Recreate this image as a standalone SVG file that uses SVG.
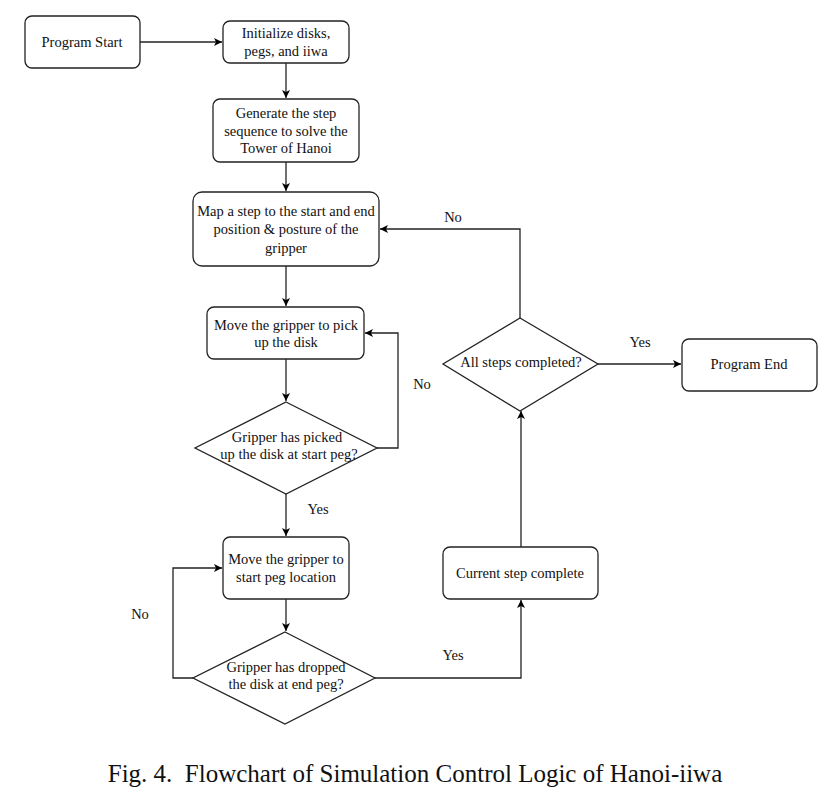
<svg xmlns="http://www.w3.org/2000/svg" width="830" height="796" viewBox="0 0 830 796">
<defs>
<marker id="ah" markerWidth="10" markerHeight="10" refX="9" refY="5" orient="auto" markerUnits="userSpaceOnUse">
<path d="M1,1 L9,5 L1,9 L3,5 Z" fill="#000"/>
</marker>
<style>
.n{fill:#fff;stroke:#222;stroke-width:1.3}
.t{font-family:"Liberation Serif","Times New Roman",serif;font-size:14.5px;fill:#111;text-anchor:middle}
.c{fill:none;stroke:#222;stroke-width:1.3}
.a{marker-end:url(#ah)}
.cap{font-family:"Liberation Serif","Times New Roman",serif;font-size:25px;fill:#111;text-anchor:middle}
</style>
</defs>
<rect width="830" height="796" fill="#fff"/>
<g id="connectors">
<path class="c a" d="M140,42 H222"/>
<path class="c a" d="M286,63 V98"/>
<path class="c a" d="M286,162 V191"/>
<path class="c a" d="M286,266 V306"/>
<path class="c a" d="M286,359 V401"/>
<path class="c a" d="M377,448 H398 V333 H365"/>
<path class="c a" d="M286,494 V536"/>
<path class="c a" d="M286,599 V631"/>
<path class="c a" d="M193,678 H173 V568 H222"/>
<path class="c a" d="M375,678 H521 V600"/>
<path class="c a" d="M521,547 V411"/>
<path class="c a" d="M520,318 V229 H380"/>
<path class="c a" d="M598,364 H681"/>
<text class="t" x="422" y="389">No</text>
<text class="t" x="318" y="514">Yes</text>
<text class="t" x="140" y="619">No</text>
<text class="t" x="453" y="660">Yes</text>
<text class="t" x="453" y="222">No</text>
<text class="t" x="640" y="347">Yes</text>
</g>
<g id="program-start">
<rect class="n" x="25" y="16" width="115" height="52" rx="7"/>
<text class="t" x="82" y="47">Program Start</text>
</g>
<g id="initialize">
<rect class="n" x="223" y="21" width="126" height="42" rx="7"/>
<text class="t" x="286" y="38">Initialize disks,</text>
<text class="t" x="286" y="56">pegs, and iiwa</text>
</g>
<g id="generate">
<rect class="n" x="213" y="99" width="146" height="63" rx="7"/>
<text class="t" x="286" y="118">Generate the step</text>
<text class="t" x="286" y="136">sequence to solve the</text>
<text class="t" x="286" y="153">Tower of Hanoi</text>
</g>
<g id="map-step">
<rect class="n" x="193" y="192" width="186" height="74" rx="9"/>
<text class="t" x="286" y="216">Map a step to the start and end</text>
<text class="t" x="286" y="234">position &amp; posture of the</text>
<text class="t" x="286" y="253">gripper</text>
</g>
<g id="move-pick">
<rect class="n" x="207" y="307" width="157" height="52" rx="7"/>
<text class="t" x="286" y="330">Move the gripper to pick</text>
<text class="t" x="286" y="347">up the disk</text>
</g>
<g id="picked-decision">
<polygon class="n" points="286,402 377,448 286,494 195,448"/>
<text class="t" x="287" y="442">Gripper has picked</text>
<text class="t" x="289" y="459">up the disk at start peg?</text>
</g>
<g id="move-start-peg">
<rect class="n" x="223" y="537" width="126" height="62" rx="7"/>
<text class="t" x="286" y="564">Move the gripper to</text>
<text class="t" x="286" y="582">start peg location</text>
</g>
<g id="dropped-decision">
<polygon class="n" points="285,632 375,678 285,724 193,678"/>
<text class="t" x="286" y="672">Gripper has dropped</text>
<text class="t" x="286" y="689">the disk at end peg?</text>
</g>
<g id="current-step">
<rect class="n" x="443" y="547" width="155" height="52" rx="7"/>
<text class="t" x="520" y="578">Current step complete</text>
</g>
<g id="all-steps-decision">
<polygon class="n" points="520,318 598,364 520,411 443,364"/>
<text class="t" x="521" y="367">All steps completed?</text>
</g>
<g id="program-end">
<rect class="n" x="682" y="339" width="135" height="52" rx="7"/>
<text class="t" x="749" y="369">Program End</text>
</g>
<text class="cap" x="415" y="782" xml:space="preserve">Fig. 4.  Flowchart of Simulation Control Logic of Hanoi-iiwa</text>
</svg>
